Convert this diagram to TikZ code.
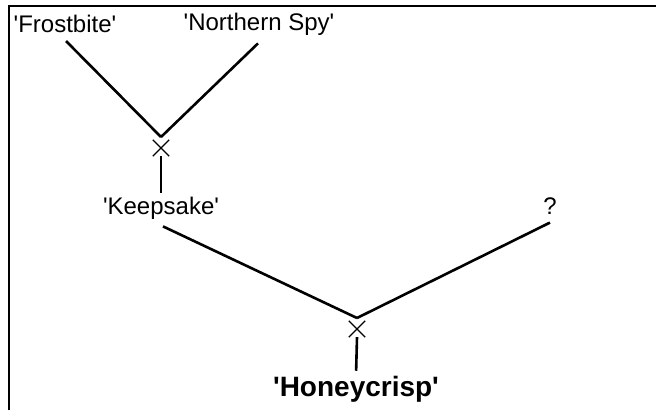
\documentclass[tikz,border=0pt]{standalone}
\usepackage{fontspec}
\setmainfont{Liberation Sans}
\usetikzlibrary{shapes.misc}
\newcommand{\sq}{\textquotesingle}
\begin{document}
\begin{tikzpicture}[x=1pt,y=-1pt]
\tikzstyle{every node}+=[inner sep=0pt]
\tikzstyle{apple}=[font=\fontsize{24}{24}\selectfont]
\tikzstyle{cross}=[draw,cross out,minimum size=15pt,line width=1.4pt]
\tikzstyle{branch}=[line width=2.6pt]
\useasboundingbox (0,0) rectangle (656,410);
\draw [line width=2pt] (9,410) -- (9,6) -- (656,6);
\draw (65,24) node [apple] (fb) {\sq Frostbite\sq};
\draw (259,24) node [apple] (ns) {\sq Northern Spy\sq};
\coordinate (j1) at (161,137);
\draw (161,148) node [cross] (x1) {};
\draw (161,208) node [apple] (ks) {\sq Keepsake\sq};
\draw (550,206) node [apple] (q) {?};
\coordinate (j2) at (357,318);
\draw (357,329) node [cross] (x2) {};
\draw (356,389) node [font=\fontsize{28}{28}\selectfont\bfseries] (hc) {\sq Honeycrisp\sq};
\draw [branch] (fb.south)++(1,8) -- (j1);
\draw [branch] (ns.south)++(-1,8) -- (j1);
\draw [branch,shorten >=4pt] (x1.south) -- (ks.north);
\draw [branch] (ks.south) ++(2,7) -- (j2);
\draw [branch] (q.south) ++(0,8) -- (j2);
\draw [branch,shorten >=5pt] (x2.south) -- (hc.north);
\end{tikzpicture}
\end{document}
